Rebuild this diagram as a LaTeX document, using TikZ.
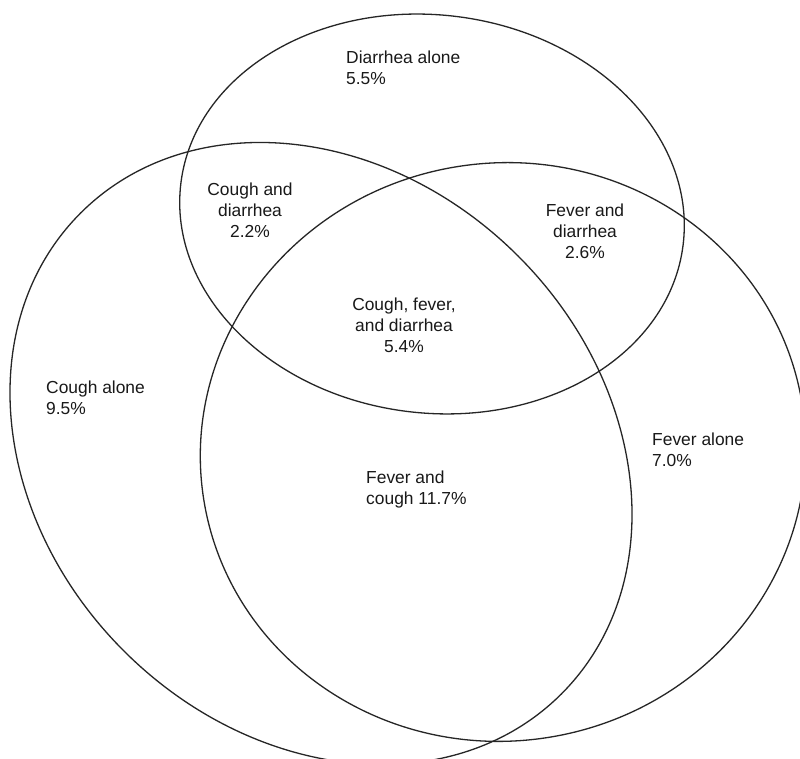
\documentclass[tikz,border=0pt]{standalone}
\usepackage{fontspec}
\setmainfont{Liberation Sans}
\begin{document}
\begin{tikzpicture}[x=1pt,y=1pt,
  setline/.style={draw=black!85,line width=1.3pt},
  lbl/.style={inner sep=0pt,font=\fontsize{17.4pt}{20.8pt}\selectfont,text=black!90},
  lblL/.style={lbl,align=left,anchor=north west},
  lblC/.style={lbl,align=center,anchor=north}]
\useasboundingbox[fill=white] (0,0) rectangle (800,759);
% diarrhea set
\draw[setline,rotate around={-7:(432,545)}] (432,545) ellipse [x radius=253pt,y radius=199pt];
% cough set
\draw[setline,rotate around={-45:(321,305.5)}] (321,305.5) ellipse [x radius=340pt,y radius=279pt];
% fever set
\draw[setline,rotate around={9:(503,307)}] (503,307) ellipse [x radius=303pt,y radius=289pt];
% labels
\node[lblL] (dalone) at (346,708.3) {Diarrhea alone\\5.5\%};
\node[lblC] (cd) at (250,576.3) {Cough and\\diarrhea\\2.2\%};
\node[lblC] (fd) at (585,555.3) {Fever and\\diarrhea\\2.6\%};
\node[lblC] (cfd) at (404,461.3) {Cough, fever,\\and diarrhea\\5.4\%};
\node[lblL] (calone) at (46,378.3) {Cough alone\\9.5\%};
\node[lblL] (falone) at (652,326.3) {Fever alone\\7.0\%};
\node[lblL] (fc) at (366,288.3) {Fever and\\cough 11.7\%};
\end{tikzpicture}
\end{document}
